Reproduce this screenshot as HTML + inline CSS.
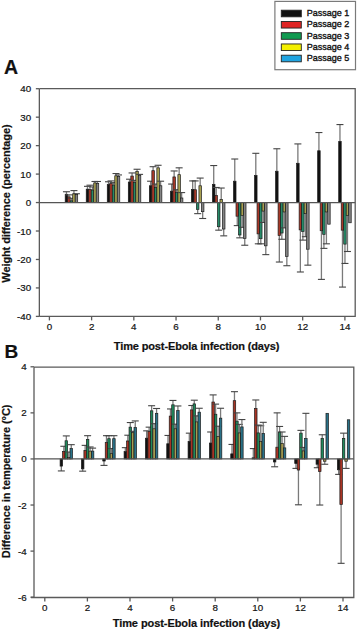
<!DOCTYPE html>
<html><head><meta charset="utf-8"><style>
html,body{margin:0;padding:0;background:#fff;}
body{width:358px;height:631px;overflow:hidden;}
svg{display:block;font-family:"Liberation Sans",sans-serif;}
text{fill:#111;stroke:#111;stroke-width:0.2;}
.ax{stroke:#5a5a5a;stroke-width:1.3;fill:none;}
.z{stroke:#555;stroke-width:1.2;}
.e{stroke:#7a7a7a;stroke-width:1.3;}
.c{stroke:#444;stroke-width:1.1;}
.b{stroke:#1a1a1a;stroke-width:0.7;}
.t{font-weight:bold;}
.lg{stroke:#111;stroke-width:0.35;}
</style></head><body>
<svg width="358" height="631" viewBox="0 0 358 631">
<rect width="358" height="631" fill="#fff"/>
<rect x="274.9" y="1.4" width="80.6" height="68.3" fill="#fff" stroke="#7a7a7a" stroke-width="1.2"/>
<rect x="281.3" y="10.2" width="20" height="6.6" fill="#111111" stroke="#222" stroke-width="0.9"/>
<text x="306.7" y="16.1" font-size="9" class="lg">Passage 1</text>
<rect x="281.3" y="21.45" width="20" height="6.6" fill="#e02424" stroke="#222" stroke-width="0.9"/>
<text x="306.7" y="27.35" font-size="9" class="lg">Passage 2</text>
<rect x="281.3" y="32.7" width="20" height="6.6" fill="#109a50" stroke="#222" stroke-width="0.9"/>
<text x="306.7" y="38.6" font-size="9" class="lg">Passage 3</text>
<rect x="281.3" y="43.95" width="20" height="6.6" fill="#f4f000" stroke="#222" stroke-width="0.9"/>
<text x="306.7" y="49.85" font-size="9" class="lg">Passage 4</text>
<rect x="281.3" y="55.2" width="20" height="6.6" fill="#20a4e0" stroke="#222" stroke-width="0.9"/>
<text x="306.7" y="61.1" font-size="9" class="lg">Passage 5</text>
<text x="4" y="73.8" font-size="19.5" class="t">A</text>
<text x="4.6" y="357.8" font-size="19" class="t">B</text>
<line x1="66.44" y1="194.3" x2="66.44" y2="191.74" class="e"/>
<line x1="62.94" y1="191.74" x2="69.94" y2="191.74" class="c"/>
<rect x="65.19" y="194.3" width="2.5" height="8.25" fill="#111111" class="b"/>
<line x1="68.94" y1="196.86" x2="68.94" y2="194.87" class="e"/>
<line x1="65.44" y1="194.87" x2="72.44" y2="194.87" class="c"/>
<rect x="67.69" y="196.86" width="2.5" height="5.69" fill="#a83828" class="b"/>
<line x1="71.44" y1="200.84" x2="71.44" y2="198.28" class="e"/>
<line x1="67.94" y1="198.28" x2="74.94" y2="198.28" class="c"/>
<rect x="70.19" y="200.84" width="2.5" height="1.71" fill="#268a68" class="b"/>
<line x1="73.94" y1="193.73" x2="73.94" y2="190.6" class="e"/>
<line x1="70.44" y1="190.6" x2="77.44" y2="190.6" class="c"/>
<rect x="72.69" y="193.73" width="2.5" height="8.82" fill="#a8a050" class="b"/>
<line x1="76.44" y1="194.58" x2="76.44" y2="193.73" class="e"/>
<line x1="72.94" y1="193.73" x2="79.94" y2="193.73" class="c"/>
<rect x="75.19" y="194.58" width="2.5" height="7.97" fill="#848484" class="b"/>
<line x1="87.48" y1="189.17" x2="87.48" y2="186.33" class="e"/>
<line x1="83.98" y1="186.33" x2="90.98" y2="186.33" class="c"/>
<rect x="86.23" y="189.17" width="2.5" height="13.38" fill="#111111" class="b"/>
<line x1="89.98" y1="189.46" x2="89.98" y2="185.19" class="e"/>
<line x1="86.48" y1="185.19" x2="93.48" y2="185.19" class="c"/>
<rect x="88.73" y="189.46" width="2.5" height="13.09" fill="#a83828" class="b"/>
<line x1="92.48" y1="190.03" x2="92.48" y2="186.9" class="e"/>
<line x1="88.98" y1="186.9" x2="95.98" y2="186.9" class="c"/>
<rect x="91.23" y="190.03" width="2.5" height="12.52" fill="#268a68" class="b"/>
<line x1="94.98" y1="182.91" x2="94.98" y2="181.49" class="e"/>
<line x1="91.48" y1="181.49" x2="98.48" y2="181.49" class="c"/>
<rect x="93.73" y="182.91" width="2.5" height="19.64" fill="#a8a050" class="b"/>
<line x1="97.48" y1="183.48" x2="97.48" y2="181.49" class="e"/>
<line x1="93.98" y1="181.49" x2="100.98" y2="181.49" class="c"/>
<rect x="96.23" y="183.48" width="2.5" height="19.07" fill="#848484" class="b"/>
<line x1="108.52" y1="184.62" x2="108.52" y2="181.77" class="e"/>
<line x1="105.02" y1="181.77" x2="112.02" y2="181.77" class="c"/>
<rect x="107.27" y="184.62" width="2.5" height="17.93" fill="#111111" class="b"/>
<line x1="111.02" y1="183.48" x2="111.02" y2="180.92" class="e"/>
<line x1="107.52" y1="180.92" x2="114.52" y2="180.92" class="c"/>
<rect x="109.77" y="183.48" width="2.5" height="19.07" fill="#a83828" class="b"/>
<line x1="113.52" y1="185.19" x2="113.52" y2="182.63" class="e"/>
<line x1="110.02" y1="182.63" x2="117.02" y2="182.63" class="c"/>
<rect x="112.27" y="185.19" width="2.5" height="17.36" fill="#268a68" class="b"/>
<line x1="116.02" y1="175.8" x2="116.02" y2="173.52" class="e"/>
<line x1="112.52" y1="173.52" x2="119.52" y2="173.52" class="c"/>
<rect x="114.77" y="175.8" width="2.5" height="26.75" fill="#a8a050" class="b"/>
<line x1="118.52" y1="176.37" x2="118.52" y2="174.94" class="e"/>
<line x1="115.02" y1="174.94" x2="122.02" y2="174.94" class="c"/>
<rect x="117.27" y="176.37" width="2.5" height="26.18" fill="#848484" class="b"/>
<line x1="129.56" y1="182.06" x2="129.56" y2="179.21" class="e"/>
<line x1="126.06" y1="179.21" x2="133.06" y2="179.21" class="c"/>
<rect x="128.31" y="182.06" width="2.5" height="20.49" fill="#111111" class="b"/>
<line x1="132.06" y1="176.08" x2="132.06" y2="172.95" class="e"/>
<line x1="128.56" y1="172.95" x2="135.56" y2="172.95" class="c"/>
<rect x="130.81" y="176.08" width="2.5" height="26.47" fill="#a83828" class="b"/>
<line x1="134.56" y1="182.34" x2="134.56" y2="180.35" class="e"/>
<line x1="131.06" y1="180.35" x2="138.06" y2="180.35" class="c"/>
<rect x="133.31" y="182.34" width="2.5" height="20.21" fill="#268a68" class="b"/>
<line x1="137.06" y1="171.53" x2="137.06" y2="169.25" class="e"/>
<line x1="133.56" y1="169.25" x2="140.56" y2="169.25" class="c"/>
<rect x="135.81" y="171.53" width="2.5" height="31.02" fill="#a8a050" class="b"/>
<line x1="139.56" y1="175.23" x2="139.56" y2="174.37" class="e"/>
<line x1="136.06" y1="174.37" x2="143.06" y2="174.37" class="c"/>
<rect x="138.31" y="175.23" width="2.5" height="27.32" fill="#848484" class="b"/>
<line x1="150.6" y1="185.76" x2="150.6" y2="181.21" class="e"/>
<line x1="147.1" y1="181.21" x2="154.1" y2="181.21" class="c"/>
<rect x="149.35" y="185.76" width="2.5" height="16.79" fill="#111111" class="b"/>
<line x1="153.1" y1="170.67" x2="153.1" y2="166.69" class="e"/>
<line x1="149.6" y1="166.69" x2="156.6" y2="166.69" class="c"/>
<rect x="151.85" y="170.67" width="2.5" height="31.88" fill="#a83828" class="b"/>
<line x1="155.6" y1="187.47" x2="155.6" y2="184.05" class="e"/>
<line x1="152.1" y1="184.05" x2="159.1" y2="184.05" class="c"/>
<rect x="154.35" y="187.47" width="2.5" height="15.08" fill="#268a68" class="b"/>
<line x1="158.1" y1="167.83" x2="158.1" y2="165.27" class="e"/>
<line x1="154.6" y1="165.27" x2="161.6" y2="165.27" class="c"/>
<rect x="156.85" y="167.83" width="2.5" height="34.72" fill="#a8a050" class="b"/>
<line x1="160.6" y1="185.76" x2="160.6" y2="181.21" class="e"/>
<line x1="157.1" y1="181.21" x2="164.1" y2="181.21" class="c"/>
<rect x="159.35" y="185.76" width="2.5" height="16.79" fill="#848484" class="b"/>
<line x1="171.64" y1="191.17" x2="171.64" y2="184.05" class="e"/>
<line x1="168.14" y1="184.05" x2="175.14" y2="184.05" class="c"/>
<rect x="170.39" y="191.17" width="2.5" height="11.38" fill="#111111" class="b"/>
<line x1="174.14" y1="176.94" x2="174.14" y2="170.96" class="e"/>
<line x1="170.64" y1="170.96" x2="177.64" y2="170.96" class="c"/>
<rect x="172.89" y="176.94" width="2.5" height="25.61" fill="#a83828" class="b"/>
<line x1="176.64" y1="192.59" x2="176.64" y2="189.74" class="e"/>
<line x1="173.14" y1="189.74" x2="180.14" y2="189.74" class="c"/>
<rect x="175.39" y="192.59" width="2.5" height="9.96" fill="#268a68" class="b"/>
<line x1="179.14" y1="174.66" x2="179.14" y2="167.83" class="e"/>
<line x1="175.64" y1="167.83" x2="182.64" y2="167.83" class="c"/>
<rect x="177.89" y="174.66" width="2.5" height="27.89" fill="#a8a050" class="b"/>
<line x1="181.64" y1="198" x2="181.64" y2="192.59" class="e"/>
<line x1="178.14" y1="192.59" x2="185.14" y2="192.59" class="c"/>
<rect x="180.39" y="198" width="2.5" height="4.55" fill="#848484" class="b"/>
<line x1="192.68" y1="189.46" x2="192.68" y2="180.92" class="e"/>
<line x1="189.18" y1="180.92" x2="196.18" y2="180.92" class="c"/>
<rect x="191.43" y="189.46" width="2.5" height="13.09" fill="#111111" class="b"/>
<line x1="195.18" y1="189.74" x2="195.18" y2="180.92" class="e"/>
<line x1="191.68" y1="180.92" x2="198.68" y2="180.92" class="c"/>
<rect x="193.93" y="189.74" width="2.5" height="12.81" fill="#a83828" class="b"/>
<line x1="197.68" y1="209.38" x2="197.68" y2="213.65" class="e"/>
<line x1="194.18" y1="213.65" x2="201.18" y2="213.65" class="c"/>
<rect x="196.43" y="202.55" width="2.5" height="6.83" fill="#268a68" class="b"/>
<line x1="200.18" y1="185.76" x2="200.18" y2="178.07" class="e"/>
<line x1="196.68" y1="178.07" x2="203.68" y2="178.07" class="c"/>
<rect x="198.93" y="185.76" width="2.5" height="16.79" fill="#a8a050" class="b"/>
<line x1="202.68" y1="211.66" x2="202.68" y2="218.49" class="e"/>
<line x1="199.18" y1="218.49" x2="206.18" y2="218.49" class="c"/>
<rect x="201.43" y="202.55" width="2.5" height="9.11" fill="#848484" class="b"/>
<line x1="213.72" y1="184.34" x2="213.72" y2="165.55" class="e"/>
<line x1="210.22" y1="165.55" x2="217.22" y2="165.55" class="c"/>
<rect x="212.47" y="184.34" width="2.5" height="18.21" fill="#111111" class="b"/>
<line x1="216.22" y1="195.44" x2="216.22" y2="187.47" class="e"/>
<line x1="212.72" y1="187.47" x2="219.72" y2="187.47" class="c"/>
<rect x="214.97" y="195.44" width="2.5" height="7.12" fill="#a83828" class="b"/>
<line x1="218.72" y1="226.74" x2="218.72" y2="230.16" class="e"/>
<line x1="215.22" y1="230.16" x2="222.22" y2="230.16" class="c"/>
<rect x="217.47" y="202.55" width="2.5" height="24.19" fill="#268a68" class="b"/>
<line x1="221.22" y1="199.42" x2="221.22" y2="188.04" class="e"/>
<line x1="217.72" y1="188.04" x2="224.72" y2="188.04" class="c"/>
<rect x="219.97" y="199.42" width="2.5" height="3.13" fill="#a8a050" class="b"/>
<line x1="223.72" y1="229.02" x2="223.72" y2="235.85" class="e"/>
<line x1="220.22" y1="235.85" x2="227.22" y2="235.85" class="c"/>
<rect x="222.47" y="202.55" width="2.5" height="26.47" fill="#848484" class="b"/>
<line x1="234.76" y1="181.21" x2="234.76" y2="159.01" class="e"/>
<line x1="231.26" y1="159.01" x2="238.26" y2="159.01" class="c"/>
<rect x="233.51" y="181.21" width="2.5" height="21.34" fill="#111111" class="b"/>
<line x1="237.26" y1="216.21" x2="237.26" y2="225.6" class="e"/>
<line x1="233.76" y1="225.6" x2="240.76" y2="225.6" class="c"/>
<rect x="236.01" y="202.55" width="2.5" height="13.66" fill="#a83828" class="b"/>
<line x1="239.76" y1="234.99" x2="239.76" y2="237.84" class="e"/>
<line x1="236.26" y1="237.84" x2="243.26" y2="237.84" class="c"/>
<rect x="238.51" y="202.55" width="2.5" height="32.44" fill="#268a68" class="b"/>
<line x1="242.26" y1="215.36" x2="242.26" y2="227.31" class="e"/>
<line x1="238.76" y1="227.31" x2="245.76" y2="227.31" class="c"/>
<rect x="241.01" y="202.55" width="2.5" height="12.81" fill="#a8a050" class="b"/>
<line x1="244.76" y1="238.41" x2="244.76" y2="245.24" class="e"/>
<line x1="241.26" y1="245.24" x2="248.26" y2="245.24" class="c"/>
<rect x="243.51" y="202.55" width="2.5" height="35.86" fill="#848484" class="b"/>
<line x1="255.8" y1="175.51" x2="255.8" y2="153.31" class="e"/>
<line x1="252.3" y1="153.31" x2="259.3" y2="153.31" class="c"/>
<rect x="254.55" y="175.51" width="2.5" height="27.04" fill="#111111" class="b"/>
<line x1="258.3" y1="233.86" x2="258.3" y2="243.82" class="e"/>
<line x1="254.8" y1="243.82" x2="261.8" y2="243.82" class="c"/>
<rect x="257.05" y="202.55" width="2.5" height="31.31" fill="#a83828" class="b"/>
<line x1="260.8" y1="238.69" x2="260.8" y2="243.82" class="e"/>
<line x1="257.3" y1="243.82" x2="264.3" y2="243.82" class="c"/>
<rect x="259.55" y="202.55" width="2.5" height="36.14" fill="#268a68" class="b"/>
<line x1="263.3" y1="211.09" x2="263.3" y2="222.47" class="e"/>
<line x1="259.8" y1="222.47" x2="266.8" y2="222.47" class="c"/>
<rect x="262.05" y="202.55" width="2.5" height="8.54" fill="#a8a050" class="b"/>
<line x1="265.8" y1="245.81" x2="265.8" y2="254.63" class="e"/>
<line x1="262.3" y1="254.63" x2="269.3" y2="254.63" class="c"/>
<rect x="264.55" y="202.55" width="2.5" height="43.26" fill="#848484" class="b"/>
<line x1="276.84" y1="171.24" x2="276.84" y2="148.76" class="e"/>
<line x1="273.34" y1="148.76" x2="280.34" y2="148.76" class="c"/>
<rect x="275.59" y="171.24" width="2.5" height="31.31" fill="#111111" class="b"/>
<line x1="279.34" y1="235.56" x2="279.34" y2="262.03" class="e"/>
<line x1="275.84" y1="262.03" x2="282.84" y2="262.03" class="c"/>
<rect x="278.09" y="202.55" width="2.5" height="33.01" fill="#a83828" class="b"/>
<line x1="281.84" y1="233" x2="281.84" y2="239.26" class="e"/>
<line x1="278.34" y1="239.26" x2="285.34" y2="239.26" class="c"/>
<rect x="280.59" y="202.55" width="2.5" height="30.45" fill="#268a68" class="b"/>
<line x1="284.34" y1="211.94" x2="284.34" y2="227.88" class="e"/>
<line x1="280.84" y1="227.88" x2="287.84" y2="227.88" class="c"/>
<rect x="283.09" y="202.55" width="2.5" height="9.39" fill="#a8a050" class="b"/>
<line x1="286.84" y1="256.34" x2="286.84" y2="265.73" class="e"/>
<line x1="283.34" y1="265.73" x2="290.34" y2="265.73" class="c"/>
<rect x="285.59" y="202.55" width="2.5" height="53.79" fill="#848484" class="b"/>
<line x1="297.88" y1="163.28" x2="297.88" y2="143.92" class="e"/>
<line x1="294.38" y1="143.92" x2="301.38" y2="143.92" class="c"/>
<rect x="296.63" y="163.28" width="2.5" height="39.27" fill="#111111" class="b"/>
<line x1="300.38" y1="229.87" x2="300.38" y2="271.99" class="e"/>
<line x1="296.88" y1="271.99" x2="303.88" y2="271.99" class="c"/>
<rect x="299.13" y="202.55" width="2.5" height="27.32" fill="#a83828" class="b"/>
<line x1="302.88" y1="231.58" x2="302.88" y2="240.12" class="e"/>
<line x1="299.38" y1="240.12" x2="306.38" y2="240.12" class="c"/>
<rect x="301.63" y="202.55" width="2.5" height="29.03" fill="#268a68" class="b"/>
<line x1="305.38" y1="213.65" x2="305.38" y2="236.7" class="e"/>
<line x1="301.88" y1="236.7" x2="308.88" y2="236.7" class="c"/>
<rect x="304.13" y="202.55" width="2.5" height="11.1" fill="#a8a050" class="b"/>
<line x1="307.88" y1="249.22" x2="307.88" y2="265.16" class="e"/>
<line x1="304.38" y1="265.16" x2="311.38" y2="265.16" class="c"/>
<rect x="306.63" y="202.55" width="2.5" height="46.67" fill="#848484" class="b"/>
<line x1="318.92" y1="150.75" x2="318.92" y2="132.54" class="e"/>
<line x1="315.42" y1="132.54" x2="322.42" y2="132.54" class="c"/>
<rect x="317.67" y="150.75" width="2.5" height="51.8" fill="#111111" class="b"/>
<line x1="321.42" y1="230.73" x2="321.42" y2="279.39" class="e"/>
<line x1="317.92" y1="279.39" x2="324.92" y2="279.39" class="c"/>
<rect x="320.17" y="202.55" width="2.5" height="28.18" fill="#a83828" class="b"/>
<line x1="323.92" y1="234.43" x2="323.92" y2="248.37" class="e"/>
<line x1="320.42" y1="248.37" x2="327.42" y2="248.37" class="c"/>
<rect x="322.67" y="202.55" width="2.5" height="31.88" fill="#268a68" class="b"/>
<line x1="326.42" y1="211.94" x2="326.42" y2="243.82" class="e"/>
<line x1="322.92" y1="243.82" x2="329.92" y2="243.82" class="c"/>
<rect x="325.17" y="202.55" width="2.5" height="9.39" fill="#a8a050" class="b"/>
<rect x="327.67" y="202.55" width="2.5" height="21.63" fill="#848484" class="b"/>
<line x1="339.96" y1="141.36" x2="339.96" y2="124.57" class="e"/>
<line x1="336.46" y1="124.57" x2="343.46" y2="124.57" class="c"/>
<rect x="338.71" y="141.36" width="2.5" height="61.19" fill="#111111" class="b"/>
<line x1="342.46" y1="230.16" x2="342.46" y2="287.08" class="e"/>
<line x1="338.96" y1="287.08" x2="345.96" y2="287.08" class="c"/>
<rect x="341.21" y="202.55" width="2.5" height="27.61" fill="#a83828" class="b"/>
<line x1="344.96" y1="244.1" x2="344.96" y2="263.45" class="e"/>
<line x1="341.46" y1="263.45" x2="348.46" y2="263.45" class="c"/>
<rect x="343.71" y="202.55" width="2.5" height="41.55" fill="#268a68" class="b"/>
<line x1="347.46" y1="215.36" x2="347.46" y2="251.5" class="e"/>
<line x1="343.96" y1="251.5" x2="350.96" y2="251.5" class="c"/>
<rect x="346.21" y="202.55" width="2.5" height="12.81" fill="#a8a050" class="b"/>
<rect x="348.71" y="202.55" width="2.5" height="20.21" fill="#848484" class="b"/>
<line x1="39.35" y1="202.55" x2="355.2" y2="202.55" class="z"/>
<path d="M39.35 88.7H355.2V316.4H39.35M39.35 88.7V316.4" class="ax"/>
<line x1="35.85" y1="88.71" x2="39.35" y2="88.71" class="ax"/>
<text x="31.2" y="92.21" text-anchor="end" font-size="9.8">40</text>
<line x1="35.85" y1="117.17" x2="39.35" y2="117.17" class="ax"/>
<text x="31.2" y="120.67" text-anchor="end" font-size="9.8">30</text>
<line x1="35.85" y1="145.63" x2="39.35" y2="145.63" class="ax"/>
<text x="31.2" y="149.13" text-anchor="end" font-size="9.8">20</text>
<line x1="35.85" y1="174.09" x2="39.35" y2="174.09" class="ax"/>
<text x="31.2" y="177.59" text-anchor="end" font-size="9.8">10</text>
<line x1="35.85" y1="202.55" x2="39.35" y2="202.55" class="ax"/>
<text x="31.2" y="206.05" text-anchor="end" font-size="9.8">0</text>
<line x1="35.85" y1="231.01" x2="39.35" y2="231.01" class="ax"/>
<text x="31.2" y="234.51" text-anchor="end" font-size="9.8">-10</text>
<line x1="35.85" y1="259.47" x2="39.35" y2="259.47" class="ax"/>
<text x="31.2" y="262.97" text-anchor="end" font-size="9.8">-20</text>
<line x1="35.85" y1="287.93" x2="39.35" y2="287.93" class="ax"/>
<text x="31.2" y="291.43" text-anchor="end" font-size="9.8">-30</text>
<line x1="35.85" y1="316.39" x2="39.35" y2="316.39" class="ax"/>
<text x="31.2" y="319.89" text-anchor="end" font-size="9.8">-40</text>
<line x1="49.4" y1="316.4" x2="49.4" y2="320.4" class="ax"/>
<text x="49.4" y="330.2" text-anchor="middle" font-size="9.8">0</text>
<line x1="91.61" y1="316.4" x2="91.61" y2="320.4" class="ax"/>
<text x="91.61" y="330.2" text-anchor="middle" font-size="9.8">2</text>
<line x1="133.83" y1="316.4" x2="133.83" y2="320.4" class="ax"/>
<text x="133.83" y="330.2" text-anchor="middle" font-size="9.8">4</text>
<line x1="176.04" y1="316.4" x2="176.04" y2="320.4" class="ax"/>
<text x="176.04" y="330.2" text-anchor="middle" font-size="9.8">6</text>
<line x1="218.26" y1="316.4" x2="218.26" y2="320.4" class="ax"/>
<text x="218.26" y="330.2" text-anchor="middle" font-size="9.8">8</text>
<line x1="260.47" y1="316.4" x2="260.47" y2="320.4" class="ax"/>
<text x="260.47" y="330.2" text-anchor="middle" font-size="9.8">10</text>
<line x1="302.68" y1="316.4" x2="302.68" y2="320.4" class="ax"/>
<text x="302.68" y="330.2" text-anchor="middle" font-size="9.8">12</text>
<line x1="344.9" y1="316.4" x2="344.9" y2="320.4" class="ax"/>
<text x="344.9" y="330.2" text-anchor="middle" font-size="9.8">14</text>
<line x1="61.34" y1="466.09" x2="61.34" y2="470.93" class="e"/>
<line x1="57.84" y1="470.93" x2="64.84" y2="470.93" class="c"/>
<rect x="60.1" y="458.95" width="2.48" height="7.14" fill="#111111" class="b"/>
<line x1="63.82" y1="451.35" x2="63.82" y2="446.28" class="e"/>
<line x1="60.32" y1="446.28" x2="67.32" y2="446.28" class="c"/>
<rect x="62.58" y="451.35" width="2.48" height="7.6" fill="#a83424" class="b"/>
<line x1="66.3" y1="440.75" x2="66.3" y2="435.91" class="e"/>
<line x1="62.8" y1="435.91" x2="69.8" y2="435.91" class="c"/>
<rect x="65.06" y="440.75" width="2.48" height="18.2" fill="#1f8a5c" class="b"/>
<line x1="68.78" y1="457.57" x2="68.78" y2="452.04" class="e"/>
<line x1="65.28" y1="452.04" x2="72.28" y2="452.04" class="c"/>
<rect x="67.54" y="457.57" width="2.48" height="1.38" fill="#a89c50" class="b"/>
<line x1="71.26" y1="448.58" x2="71.26" y2="444.67" class="e"/>
<line x1="67.76" y1="444.67" x2="74.76" y2="444.67" class="c"/>
<rect x="70.02" y="448.58" width="2.48" height="10.37" fill="#2a7288" class="b"/>
<line x1="82.67" y1="468.86" x2="82.67" y2="471.16" class="e"/>
<line x1="79.17" y1="471.16" x2="86.17" y2="471.16" class="c"/>
<rect x="81.43" y="458.95" width="2.48" height="9.91" fill="#111111" class="b"/>
<line x1="85.15" y1="450.43" x2="85.15" y2="445.36" class="e"/>
<line x1="81.65" y1="445.36" x2="88.65" y2="445.36" class="c"/>
<rect x="83.91" y="450.43" width="2.48" height="8.52" fill="#a83424" class="b"/>
<line x1="87.63" y1="439.37" x2="87.63" y2="435.68" class="e"/>
<line x1="84.13" y1="435.68" x2="91.13" y2="435.68" class="c"/>
<rect x="86.39" y="439.37" width="2.48" height="19.58" fill="#1f8a5c" class="b"/>
<line x1="90.11" y1="451.12" x2="90.11" y2="446.97" class="e"/>
<line x1="86.61" y1="446.97" x2="93.61" y2="446.97" class="c"/>
<rect x="88.87" y="451.12" width="2.48" height="7.83" fill="#a89c50" class="b"/>
<line x1="92.59" y1="451.12" x2="92.59" y2="448.12" class="e"/>
<line x1="89.09" y1="448.12" x2="96.09" y2="448.12" class="c"/>
<rect x="91.35" y="451.12" width="2.48" height="7.83" fill="#2a7288" class="b"/>
<line x1="104" y1="461.02" x2="104" y2="465.4" class="e"/>
<line x1="100.5" y1="465.4" x2="107.5" y2="465.4" class="c"/>
<rect x="102.76" y="458.95" width="2.48" height="2.07" fill="#111111" class="b"/>
<line x1="106.48" y1="442.59" x2="106.48" y2="435.68" class="e"/>
<line x1="102.98" y1="435.68" x2="109.98" y2="435.68" class="c"/>
<rect x="105.24" y="442.59" width="2.48" height="16.36" fill="#a83424" class="b"/>
<line x1="108.96" y1="438.67" x2="108.96" y2="435.68" class="e"/>
<line x1="105.46" y1="435.68" x2="112.46" y2="435.68" class="c"/>
<rect x="107.72" y="438.67" width="2.48" height="20.28" fill="#1f8a5c" class="b"/>
<line x1="111.44" y1="453.65" x2="111.44" y2="448.58" class="e"/>
<line x1="107.94" y1="448.58" x2="114.94" y2="448.58" class="c"/>
<rect x="110.2" y="453.65" width="2.48" height="5.3" fill="#a89c50" class="b"/>
<line x1="113.92" y1="438.67" x2="113.92" y2="435.68" class="e"/>
<line x1="110.42" y1="435.68" x2="117.42" y2="435.68" class="c"/>
<rect x="112.68" y="438.67" width="2.48" height="20.28" fill="#2a7288" class="b"/>
<line x1="125.33" y1="451.58" x2="125.33" y2="447.66" class="e"/>
<line x1="121.83" y1="447.66" x2="128.83" y2="447.66" class="c"/>
<rect x="124.09" y="451.58" width="2.48" height="7.37" fill="#111111" class="b"/>
<line x1="127.81" y1="440.98" x2="127.81" y2="435.22" class="e"/>
<line x1="124.31" y1="435.22" x2="131.31" y2="435.22" class="c"/>
<rect x="126.57" y="440.98" width="2.48" height="17.97" fill="#a83424" class="b"/>
<line x1="130.29" y1="427.15" x2="130.29" y2="422.55" class="e"/>
<line x1="126.79" y1="422.55" x2="133.79" y2="422.55" class="c"/>
<rect x="129.05" y="427.15" width="2.48" height="31.8" fill="#1f8a5c" class="b"/>
<line x1="132.77" y1="432.68" x2="132.77" y2="431.3" class="e"/>
<line x1="129.27" y1="431.3" x2="136.27" y2="431.3" class="c"/>
<rect x="131.53" y="432.68" width="2.48" height="26.27" fill="#a89c50" class="b"/>
<line x1="135.25" y1="427.62" x2="135.25" y2="420.93" class="e"/>
<line x1="131.75" y1="420.93" x2="138.75" y2="420.93" class="c"/>
<rect x="134.01" y="427.62" width="2.48" height="31.33" fill="#2a7288" class="b"/>
<line x1="146.66" y1="438.21" x2="146.66" y2="430.84" class="e"/>
<line x1="143.16" y1="430.84" x2="150.16" y2="430.84" class="c"/>
<rect x="145.42" y="438.21" width="2.48" height="20.74" fill="#111111" class="b"/>
<line x1="149.14" y1="431.53" x2="149.14" y2="427.15" class="e"/>
<line x1="145.64" y1="427.15" x2="152.64" y2="427.15" class="c"/>
<rect x="147.9" y="431.53" width="2.48" height="27.42" fill="#a83424" class="b"/>
<line x1="151.62" y1="410.8" x2="151.62" y2="405.73" class="e"/>
<line x1="148.12" y1="405.73" x2="155.12" y2="405.73" class="c"/>
<rect x="150.38" y="410.8" width="2.48" height="48.15" fill="#1f8a5c" class="b"/>
<line x1="154.1" y1="428.77" x2="154.1" y2="423.7" class="e"/>
<line x1="150.6" y1="423.7" x2="157.6" y2="423.7" class="c"/>
<rect x="152.86" y="428.77" width="2.48" height="30.18" fill="#a89c50" class="b"/>
<line x1="156.58" y1="413.33" x2="156.58" y2="408.49" class="e"/>
<line x1="153.08" y1="408.49" x2="160.08" y2="408.49" class="c"/>
<rect x="155.34" y="413.33" width="2.48" height="45.62" fill="#2a7288" class="b"/>
<line x1="167.99" y1="443.74" x2="167.99" y2="435.45" class="e"/>
<line x1="164.49" y1="435.45" x2="171.49" y2="435.45" class="c"/>
<rect x="166.75" y="443.74" width="2.48" height="15.21" fill="#111111" class="b"/>
<line x1="170.47" y1="416.1" x2="170.47" y2="408.95" class="e"/>
<line x1="166.97" y1="408.95" x2="173.97" y2="408.95" class="c"/>
<rect x="169.23" y="416.1" width="2.48" height="42.85" fill="#a83424" class="b"/>
<line x1="172.95" y1="404.81" x2="172.95" y2="400.43" class="e"/>
<line x1="169.45" y1="400.43" x2="176.45" y2="400.43" class="c"/>
<rect x="171.71" y="404.81" width="2.48" height="54.14" fill="#1f8a5c" class="b"/>
<line x1="175.43" y1="428.77" x2="175.43" y2="424.16" class="e"/>
<line x1="171.93" y1="424.16" x2="178.93" y2="424.16" class="c"/>
<rect x="174.19" y="428.77" width="2.48" height="30.18" fill="#a89c50" class="b"/>
<line x1="177.91" y1="410.57" x2="177.91" y2="405.96" class="e"/>
<line x1="174.41" y1="405.96" x2="181.41" y2="405.96" class="c"/>
<rect x="176.67" y="410.57" width="2.48" height="48.38" fill="#2a7288" class="b"/>
<line x1="189.32" y1="441.44" x2="189.32" y2="433.15" class="e"/>
<line x1="185.82" y1="433.15" x2="192.82" y2="433.15" class="c"/>
<rect x="188.08" y="441.44" width="2.48" height="17.51" fill="#111111" class="b"/>
<line x1="191.8" y1="409.87" x2="191.8" y2="405.5" class="e"/>
<line x1="188.3" y1="405.5" x2="195.3" y2="405.5" class="c"/>
<rect x="190.56" y="409.87" width="2.48" height="49.08" fill="#a83424" class="b"/>
<line x1="194.28" y1="403.88" x2="194.28" y2="400.2" class="e"/>
<line x1="190.78" y1="400.2" x2="197.78" y2="400.2" class="c"/>
<rect x="193.04" y="403.88" width="2.48" height="55.07" fill="#1f8a5c" class="b"/>
<line x1="196.76" y1="421.86" x2="196.76" y2="415.87" class="e"/>
<line x1="193.26" y1="415.87" x2="200.26" y2="415.87" class="c"/>
<rect x="195.52" y="421.86" width="2.48" height="37.09" fill="#a89c50" class="b"/>
<line x1="199.24" y1="412.18" x2="199.24" y2="408.26" class="e"/>
<line x1="195.74" y1="408.26" x2="202.74" y2="408.26" class="c"/>
<rect x="198" y="412.18" width="2.48" height="46.77" fill="#2a7288" class="b"/>
<line x1="210.65" y1="443.05" x2="210.65" y2="431.99" class="e"/>
<line x1="207.15" y1="431.99" x2="214.15" y2="431.99" class="c"/>
<rect x="209.41" y="443.05" width="2.48" height="15.9" fill="#111111" class="b"/>
<line x1="213.13" y1="402.04" x2="213.13" y2="394.9" class="e"/>
<line x1="209.63" y1="394.9" x2="216.63" y2="394.9" class="c"/>
<rect x="211.89" y="402.04" width="2.48" height="56.91" fill="#a83424" class="b"/>
<line x1="215.61" y1="414.25" x2="215.61" y2="404.11" class="e"/>
<line x1="212.11" y1="404.11" x2="219.11" y2="404.11" class="c"/>
<rect x="214.37" y="414.25" width="2.48" height="44.7" fill="#1f8a5c" class="b"/>
<line x1="218.09" y1="436.37" x2="218.09" y2="426.23" class="e"/>
<line x1="214.59" y1="426.23" x2="221.59" y2="426.23" class="c"/>
<rect x="216.85" y="436.37" width="2.48" height="22.58" fill="#a89c50" class="b"/>
<line x1="220.57" y1="418.17" x2="220.57" y2="408.26" class="e"/>
<line x1="217.07" y1="408.26" x2="224.07" y2="408.26" class="c"/>
<rect x="219.33" y="418.17" width="2.48" height="40.78" fill="#2a7288" class="b"/>
<line x1="231.98" y1="453.88" x2="231.98" y2="444.43" class="e"/>
<line x1="228.48" y1="444.43" x2="235.48" y2="444.43" class="c"/>
<rect x="230.74" y="453.88" width="2.48" height="5.07" fill="#111111" class="b"/>
<line x1="234.46" y1="400.66" x2="234.46" y2="391.67" class="e"/>
<line x1="230.96" y1="391.67" x2="237.96" y2="391.67" class="c"/>
<rect x="233.22" y="400.66" width="2.48" height="58.29" fill="#a83424" class="b"/>
<line x1="236.94" y1="421.16" x2="236.94" y2="412.87" class="e"/>
<line x1="233.44" y1="412.87" x2="240.44" y2="412.87" class="c"/>
<rect x="235.7" y="421.16" width="2.48" height="37.79" fill="#1f8a5c" class="b"/>
<line x1="239.42" y1="432.91" x2="239.42" y2="424.39" class="e"/>
<line x1="235.92" y1="424.39" x2="242.92" y2="424.39" class="c"/>
<rect x="238.18" y="432.91" width="2.48" height="26.04" fill="#a89c50" class="b"/>
<line x1="241.9" y1="426.92" x2="241.9" y2="419.55" class="e"/>
<line x1="238.4" y1="419.55" x2="245.4" y2="419.55" class="c"/>
<rect x="240.66" y="426.92" width="2.48" height="32.03" fill="#2a7288" class="b"/>
<line x1="253.31" y1="457.8" x2="253.31" y2="448.58" class="e"/>
<line x1="249.81" y1="448.58" x2="256.81" y2="448.58" class="c"/>
<rect x="252.07" y="457.8" width="2.48" height="1.15" fill="#111111" class="b"/>
<line x1="255.79" y1="408.49" x2="255.79" y2="399.97" class="e"/>
<line x1="252.29" y1="399.97" x2="259.29" y2="399.97" class="c"/>
<rect x="254.55" y="408.49" width="2.48" height="50.46" fill="#a83424" class="b"/>
<line x1="258.27" y1="432.91" x2="258.27" y2="425.08" class="e"/>
<line x1="254.77" y1="425.08" x2="261.77" y2="425.08" class="c"/>
<rect x="257.03" y="432.91" width="2.48" height="26.04" fill="#1f8a5c" class="b"/>
<line x1="260.75" y1="441.44" x2="260.75" y2="425.77" class="e"/>
<line x1="257.25" y1="425.77" x2="264.25" y2="425.77" class="c"/>
<rect x="259.51" y="441.44" width="2.48" height="17.51" fill="#a89c50" class="b"/>
<line x1="263.23" y1="433.38" x2="263.23" y2="422.32" class="e"/>
<line x1="259.73" y1="422.32" x2="266.73" y2="422.32" class="c"/>
<rect x="261.99" y="433.38" width="2.48" height="25.57" fill="#2a7288" class="b"/>
<line x1="274.64" y1="461.95" x2="274.64" y2="466.78" class="e"/>
<line x1="271.14" y1="466.78" x2="278.14" y2="466.78" class="c"/>
<rect x="273.4" y="458.95" width="2.48" height="3" fill="#111111" class="b"/>
<line x1="277.12" y1="447.2" x2="277.12" y2="412.87" class="e"/>
<line x1="273.62" y1="412.87" x2="280.62" y2="412.87" class="c"/>
<rect x="275.88" y="447.2" width="2.48" height="11.75" fill="#a83424" class="b"/>
<line x1="279.6" y1="431.99" x2="279.6" y2="426.46" class="e"/>
<line x1="276.1" y1="426.46" x2="283.1" y2="426.46" class="c"/>
<rect x="278.36" y="431.99" width="2.48" height="26.96" fill="#1f8a5c" class="b"/>
<line x1="282.08" y1="443.51" x2="282.08" y2="431.99" class="e"/>
<line x1="278.58" y1="431.99" x2="285.58" y2="431.99" class="c"/>
<rect x="280.84" y="443.51" width="2.48" height="15.44" fill="#a89c50" class="b"/>
<line x1="284.56" y1="447.89" x2="284.56" y2="436.37" class="e"/>
<line x1="281.06" y1="436.37" x2="288.06" y2="436.37" class="c"/>
<rect x="283.32" y="447.89" width="2.48" height="11.06" fill="#2a7288" class="b"/>
<line x1="295.97" y1="463.56" x2="295.97" y2="468.4" class="e"/>
<line x1="292.47" y1="468.4" x2="299.47" y2="468.4" class="c"/>
<rect x="294.73" y="458.95" width="2.48" height="4.61" fill="#111111" class="b"/>
<line x1="298.45" y1="470.01" x2="298.45" y2="504.8" class="e"/>
<line x1="294.95" y1="504.8" x2="301.95" y2="504.8" class="c"/>
<rect x="297.21" y="458.95" width="2.48" height="11.06" fill="#a83424" class="b"/>
<line x1="300.93" y1="433.15" x2="300.93" y2="430.38" class="e"/>
<line x1="297.43" y1="430.38" x2="304.43" y2="430.38" class="c"/>
<rect x="299.69" y="433.15" width="2.48" height="25.8" fill="#1f8a5c" class="b"/>
<line x1="303.41" y1="450.89" x2="303.41" y2="447.43" class="e"/>
<line x1="299.91" y1="447.43" x2="306.91" y2="447.43" class="c"/>
<rect x="302.17" y="450.89" width="2.48" height="8.06" fill="#a89c50" class="b"/>
<line x1="305.89" y1="438.44" x2="305.89" y2="413.33" class="e"/>
<line x1="302.39" y1="413.33" x2="309.39" y2="413.33" class="c"/>
<rect x="304.65" y="438.44" width="2.48" height="20.51" fill="#2a7288" class="b"/>
<line x1="317.3" y1="464.25" x2="317.3" y2="467.71" class="e"/>
<line x1="313.8" y1="467.71" x2="320.8" y2="467.71" class="c"/>
<rect x="316.06" y="458.95" width="2.48" height="5.3" fill="#111111" class="b"/>
<line x1="319.78" y1="471.62" x2="319.78" y2="505.03" class="e"/>
<line x1="316.28" y1="505.03" x2="323.28" y2="505.03" class="c"/>
<rect x="318.54" y="458.95" width="2.48" height="12.67" fill="#a83424" class="b"/>
<line x1="322.26" y1="438.44" x2="322.26" y2="434.76" class="e"/>
<line x1="318.76" y1="434.76" x2="325.76" y2="434.76" class="c"/>
<rect x="321.02" y="438.44" width="2.48" height="20.51" fill="#1f8a5c" class="b"/>
<line x1="324.74" y1="461.25" x2="324.74" y2="464.25" class="e"/>
<line x1="321.24" y1="464.25" x2="328.24" y2="464.25" class="c"/>
<rect x="323.5" y="458.95" width="2.48" height="2.3" fill="#a89c50" class="b"/>
<rect x="325.98" y="413.33" width="2.48" height="45.62" fill="#2a7288" class="b"/>
<line x1="338.63" y1="469.78" x2="338.63" y2="474.39" class="e"/>
<line x1="335.13" y1="474.39" x2="342.13" y2="474.39" class="c"/>
<rect x="337.39" y="458.95" width="2.48" height="10.83" fill="#111111" class="b"/>
<line x1="341.11" y1="504.57" x2="341.11" y2="563.32" class="e"/>
<line x1="337.61" y1="563.32" x2="344.61" y2="563.32" class="c"/>
<rect x="339.87" y="458.95" width="2.48" height="45.62" fill="#a83424" class="b"/>
<line x1="343.59" y1="438.44" x2="343.59" y2="433.15" class="e"/>
<line x1="340.09" y1="433.15" x2="347.09" y2="433.15" class="c"/>
<rect x="342.35" y="438.44" width="2.48" height="20.51" fill="#1f8a5c" class="b"/>
<line x1="346.07" y1="461.25" x2="346.07" y2="468.4" class="e"/>
<line x1="342.57" y1="468.4" x2="349.57" y2="468.4" class="c"/>
<rect x="344.83" y="458.95" width="2.48" height="2.3" fill="#a89c50" class="b"/>
<rect x="347.31" y="419.78" width="2.48" height="39.17" fill="#2a7288" class="b"/>
<line x1="34" y1="458.95" x2="353.8" y2="458.95" class="z"/>
<path d="M34 367.2H353.8V597.5H30.9M34 367.2V597.5" class="ax"/>
<line x1="30.5" y1="366.79" x2="34" y2="366.79" class="ax"/>
<text x="26.6" y="370.29" text-anchor="end" font-size="9.8">4</text>
<line x1="30.5" y1="412.87" x2="34" y2="412.87" class="ax"/>
<text x="26.6" y="416.37" text-anchor="end" font-size="9.8">2</text>
<line x1="30.5" y1="458.95" x2="34" y2="458.95" class="ax"/>
<text x="26.6" y="462.45" text-anchor="end" font-size="9.8">0</text>
<line x1="30.5" y1="505.03" x2="34" y2="505.03" class="ax"/>
<text x="26.6" y="508.53" text-anchor="end" font-size="9.8">-2</text>
<line x1="30.5" y1="551.11" x2="34" y2="551.11" class="ax"/>
<text x="26.6" y="554.61" text-anchor="end" font-size="9.8">-4</text>
<line x1="30.5" y1="597.19" x2="34" y2="597.19" class="ax"/>
<text x="26.6" y="600.69" text-anchor="end" font-size="9.8">-6</text>
<line x1="44.8" y1="597.5" x2="44.8" y2="601.5" class="ax"/>
<text x="44.8" y="611.3" text-anchor="middle" font-size="9.8">0</text>
<line x1="87.4" y1="597.5" x2="87.4" y2="601.5" class="ax"/>
<text x="87.4" y="611.3" text-anchor="middle" font-size="9.8">2</text>
<line x1="130" y1="597.5" x2="130" y2="601.5" class="ax"/>
<text x="130" y="611.3" text-anchor="middle" font-size="9.8">4</text>
<line x1="172.6" y1="597.5" x2="172.6" y2="601.5" class="ax"/>
<text x="172.6" y="611.3" text-anchor="middle" font-size="9.8">6</text>
<line x1="215.2" y1="597.5" x2="215.2" y2="601.5" class="ax"/>
<text x="215.2" y="611.3" text-anchor="middle" font-size="9.8">8</text>
<line x1="257.8" y1="597.5" x2="257.8" y2="601.5" class="ax"/>
<text x="257.8" y="611.3" text-anchor="middle" font-size="9.8">10</text>
<line x1="300.4" y1="597.5" x2="300.4" y2="601.5" class="ax"/>
<text x="300.4" y="611.3" text-anchor="middle" font-size="9.8">12</text>
<line x1="343" y1="597.5" x2="343" y2="601.5" class="ax"/>
<text x="343" y="611.3" text-anchor="middle" font-size="9.8">14</text>
<text x="196.6" y="349.8" font-size="11" class="t" text-anchor="middle" letter-spacing="-0.13">Time post-Ebola infection (days)</text>
<text x="196.4" y="626.9" font-size="11" class="t" text-anchor="middle" letter-spacing="-0.075">Time post-Ebola infection (days)</text>
<text transform="translate(9.5,203.6) rotate(-90)" font-size="11" class="t" text-anchor="middle" letter-spacing="-0.1">Weight difference (percentage)</text>
<text transform="translate(10,481.4) rotate(-90)" font-size="11" class="t" text-anchor="middle" letter-spacing="-0.08">Difference in temperature (°C)</text>
</svg>
</body></html>
